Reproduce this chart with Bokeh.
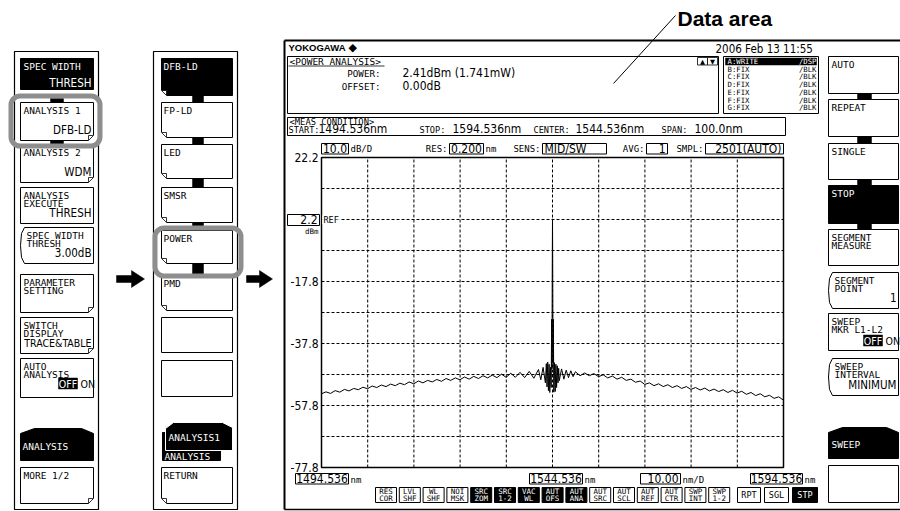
from bokeh.plotting import figure
from bokeh.models import Range1d, ColumnDataSource
from bokeh.core.properties import value
from bokeh.embed import file_html
from bokeh.resources import INLINE

# ============================ DATA ============================
START_NM = 1494.536
STOP_NM = 1594.536
CENTER_NM = 1544.536
NM_PER_DIV = 10.0
TOP_DBM = 22.2
BOTTOM_DBM = -77.8
DB_PER_DIV = 10.0
REF_DBM = 2.2
N_DIV = 10

Y_TICK_VALUES = [22.2, -17.8, -37.8, -57.8, -77.8]
Y_TICK_LABELS = ["22.2", "-17.8", "-37.8", "-57.8", "-77.8"]
REF_LABEL = "2.2"
X_BOX_LABELS = ["1494.536", "1544.536", "10.00", "1594.536"]
X_BOX_UNITS = ["nm", "nm", "nm/D", "nm"]

HEADER_NAMES = ["", "RES:", "SENS:", "AVG:", "SMPL:"]
HEADER_VALUES = ["10.0", "0.200", "MID/SW", "1", "2501(AUTO)"]
HEADER_UNITS = ["dB/D", "nm", "", "", ""]

MEAS_NAMES = ["START:", "STOP:", "CENTER:", "SPAN:"]
MEAS_VALUES = ["1494.536nm", "1594.536nm", "1544.536nm", "100.0nm"]

RESULT_NAMES = ["POWER:", "OFFSET:"]
RESULT_VALUES = ["2.41dBm (1.741mW)", "0.00dB"]

TRACE_NAMES = ["A:WRITE", "B:FIX", "C:FIX", "D:FIX", "E:FIX", "F:FIX", "G:FIX"]
TRACE_MODES = ["/DSP", "/BLK", "/BLK", "/BLK", "/BLK", "/BLK", "/BLK"]
DATE_TEXT = "2006 Feb 13 11:55"

MENU1_LABELS = [["SPEC WIDTH"], ["ANALYSIS 1"], ["ANALYSIS 2"], ["ANALYSIS", "EXECUTE"],
                ["SPEC WIDTH", "THRESH"], ["PARAMETER", "SETTING"], ["SWITCH", "DISPLAY"],
                ["AUTO", "ANALYSIS"], ["ANALYSIS"], ["MORE 1/2"]]
MENU1_VALUES = ["THRESH", "DFB-LD", "WDM", "THRESH", "3.00dB", "", "TRACE&TABLE", "OFF|ON", "", ""]

MENU2_LABELS = ["DFB-LD", "FP-LD", "LED", "SMSR", "POWER", "PMD", "", "", "ANALYSIS1", "RETURN"]
MENU2_PARENT = "ANALYSIS"

RIGHT_LABELS = [["AUTO"], ["REPEAT"], ["SINGLE"], ["STOP"], ["SEGMENT", "MEASURE"],
                ["SEGMENT", "POINT"], ["SWEEP", "MKR L1-L2"], ["SWEEP", "INTERVAL"], ["SWEEP"], []]
RIGHT_VALUES = ["", "", "", "", "", "1", "OFF|ON", "MINIMUM", "", ""]

STATUS_TOP = ["RES", "LVL", "WL", "NOI", "SRC", "SRC", "VAC", "AUT", "AUT", "AUT", "AUT", "AUT", "AUT", "SWP", "SWP"]
STATUS_BOTTOM = ["COR", "SHF", "SHF", "MSK", "ZOM", "1-2", "WL", "OFS", "ANA", "SRC", "SCL", "REF", "CTR", "INT", "1-2"]
STATUS_ON = [0, 0, 0, 0, 1, 1, 1, 1, 1, 0, 0, 0, 0, 0, 0]
SWEEP_KEYS = ["RPT", "SGL", "STP"]
SWEEP_ON = [0, 0, 1]

trace_wl = [
    1494.536, 1495.5, 1496.5, 1497.5, 1498.5, 1499.5, 1500.5, 1501.5, 1502.5, 1503.5,
    1504.5, 1505.5, 1506.5, 1507.5, 1508.5, 1509.5, 1510.5, 1511.5, 1512.5, 1513.5,
    1514.5, 1515.5, 1516.5, 1517.5, 1518.5, 1519.5, 1520.5, 1521.5, 1522.5, 1523.5,
    1524.5, 1525.5, 1526.5, 1527.5, 1528.5, 1529.5, 1530.5, 1531.5, 1532.5, 1533.5,
    1534.5, 1535.5, 1536.5, 1537.5, 1538.5, 1539.5, 1540.5, 1541.5, 1542.0, 1542.5,
    1543.0,
    1543.2, 1543.35, 1543.5, 1543.65, 1543.8, 1543.95, 1544.1, 1544.25, 1544.35, 1544.42,
    1544.48, 1544.536, 1544.59, 1544.65, 1544.72, 1544.82, 1544.97, 1545.12, 1545.27, 1545.42,
    1545.57, 1545.72, 1545.87, 1546.0,
    1546.5, 1547.0, 1547.5, 1548.0, 1548.5, 1549.0, 1549.5,
    1550.5, 1551.5, 1552.5, 1553.5, 1554.5, 1555.5, 1556.5, 1557.5, 1558.5, 1559.5,
    1560.5, 1561.5, 1562.5, 1563.5, 1564.5, 1565.5, 1566.5, 1567.5, 1568.5, 1569.5,
    1570.5, 1571.5, 1572.5, 1573.5, 1574.5, 1575.5, 1576.5, 1577.5, 1578.5, 1579.5,
    1580.5, 1581.5, 1582.5, 1583.5, 1584.5, 1585.5, 1586.5, 1587.5, 1588.5, 1589.5,
    1590.5, 1591.5, 1592.5, 1593.5, 1594.536,
]
trace_db = [
    -54.0, -53.4, -53.9, -53.0, -53.5, -52.6, -53.1, -52.3, -52.7, -51.9,
    -52.4, -51.5, -52.0, -51.2, -51.7, -50.9, -51.4, -50.6, -51.1, -50.2,
    -50.8, -49.9, -50.5, -49.7, -50.2, -49.4, -50.0, -49.1, -49.7, -48.9,
    -49.5, -48.6, -49.3, -48.4, -49.1, -48.2, -48.9, -48.0, -48.8, -47.7,
    -48.7, -47.4, -48.7, -47.1, -48.8, -46.8, -49.0, -46.2, -49.5, -45.5,
    -50.5,
    -44.3, -51.8, -43.8, -53.0, -44.5, -53.6, -45.5, -52.0, -30.0, -46.0,
    -14.5, 2.41, -14.5, -44.0, -30.0, -53.5, -44.0, -53.3, -44.5, -52.0,
    -45.0, -50.5, -45.8, -49.8,
    -46.0, -49.3, -46.4, -48.8, -46.6, -48.5, -46.9,
    -48.2, -47.3, -48.2, -47.5, -48.5, -47.9, -48.9, -48.3, -49.3, -48.7,
    -49.7, -49.3, -50.3, -49.9, -51.0, -50.5, -51.4, -50.8, -51.7, -51.1,
    -52.0, -51.4, -52.3, -51.7, -52.6, -52.0, -52.8, -52.2, -53.1, -52.5,
    -53.3, -52.7, -53.6, -52.9, -53.8, -53.2, -54.2, -53.6, -54.6, -54.0,
    -55.0, -54.5, -55.5, -55.0, -56.1,
]

# ============================ LAYOUT ============================
W, H = 900, 511
X0, X1 = 0, 900          # picture pixels covered by the figure
Y0, Y1 = 0, 511
PL, PR, PT, PB = 321, 783, 157, 467   # plot frame (picture pixels)

SMALL = "DejaVu Sans Mono"
VAL = "DejaVu Sans Condensed"

k_nm = (STOP_NM - START_NM) / (PR - PL)
k_db = (TOP_DBM - BOTTOM_DBM) / (PB - PT)

p = figure(width=W, height=H, x_range=Range1d(X0, X1), y_range=Range1d(Y1, Y0),
           x_axis_type=None, y_axis_type=None, output_backend="svg", toolbar_location=None,
           min_border=0, outline_line_color=None, background_fill_color="white",
           border_fill_color="white")
p.extra_x_ranges = {"nm": Range1d(START_NM - (PL - X0) * k_nm, STOP_NM + (X1 - PR) * k_nm)}
p.extra_y_ranges = {"db": Range1d(BOTTOM_DBM - (Y1 - PB) * k_db, TOP_DBM + (PT - Y0) * k_db)}


def layer():
    return {"q": {k: [] for k in ("left", "right", "top", "bottom", "fc", "fa", "lc", "la", "lw")},
            "p": {k: [] for k in ("xs", "ys", "fc", "fa", "lc", "la", "lw")},
            "s": {k: [] for k in ("x0", "y0", "x1", "y1", "lc", "lw")}}


def Qd(ly, l, r, t, b, fc="white", lc="black", lw=1.0, fa=1.0, la=1.0):
    d = ly["q"]
    for k, v in zip(("left", "right", "top", "bottom", "fc", "fa", "lc", "la", "lw"),
                    (l, r, t, b, fc, fa, lc, la, lw)):
        d[k].append(v)


def Pd(ly, xs, ys, fc="white", lc="black", lw=1.0, fa=1.0, la=1.0):
    d = ly["p"]
    for k, v in zip(("xs", "ys", "fc", "fa", "lc", "la", "lw"), (xs, ys, fc, fa, lc, la, lw)):
        d[k].append(v)


def Sd(ly, x0, y0, x1, y1, lc="black", lw=1.0):
    d = ly["s"]
    for k, v in zip(("x0", "y0", "x1", "y1", "lc", "lw"), (x0, y0, x1, y1, lc, lw)):
        d[k].append(v)


def draw_layer(ly):
    if ly["q"]["left"]:
        p.quad(left="left", right="right", top="top", bottom="bottom", fill_color="fc",
               fill_alpha="fa", line_color="lc", line_alpha="la", line_width="lw",
               source=ColumnDataSource(ly["q"]))
    if ly["p"]["xs"]:
        p.patches(xs="xs", ys="ys", fill_color="fc", fill_alpha="fa", line_color="lc",
                  line_alpha="la", line_width="lw", source=ColumnDataSource(ly["p"]))
    if ly["s"]["x0"]:
        p.segment(x0="x0", y0="y0", x1="x1", y1="y1", line_color="lc", line_width="lw",
                  source=ColumnDataSource(ly["s"]))


TXT = {}


def T(x, y, s, size=9.5, font=SMALL, color="black", align="left", style="normal"):
    key = (size, font, color, align, style)
    d = TXT.setdefault(key, {"x": [], "y": [], "text": []})
    d["x"].append(x)
    d["y"].append(y)
    d["text"].append(s)


def draw_text():
    for (size, font, color, align, style), d in TXT.items():
        p.text(x="x", y="y", text="text", source=ColumnDataSource(d), text_font=value(font),
               text_font_size=value(f"{size}px"), text_color=color, text_align=align,
               text_baseline="middle", text_font_style=style)


L1 = layer()
L2 = layer()


def button(ly, x0, x1, y0, y1, kind):
    f = 5
    if kind in ("plain", "foldR", "foldL"):
        Qd(ly, x0, x1, y0, y1, "white", "black", 1.0)
    elif kind in ("black", "blackFoldL"):
        Qd(ly, x0, x1, y0, y1, "black", "black", 1.0)
    elif kind == "bracket":
        ym = (y0 + y1) / 2
        Pd(ly, [x0 + 4, x1, x1, x0 + 4, x0 + 1, x0, x0 + 1],
           [y0, y0, y1, y1, y1 - 6, ym, y0 + 6], "white", "black", 1.0)
    elif kind == "tab":
        Pd(ly, [x0, x0, x0 + 14, x1 - 12, x1, x1], [y1, y0 + 5, y0, y0, y0 + 5, y1],
           "black", "black", 1.0)
    if kind == "foldR":
        Pd(ly, [x1 - f, x1 + 0.6, x1 + 0.6], [y1 + 0.6, y1 - f, y1 + 0.6], "white", "white", 1.2)
        Pd(ly, [x1 - f, x1, x1 - f], [y1, y1 - f, y1 - f], "white", "black", 0.8)
    if kind in ("foldL", "blackFoldL"):
        Pd(ly, [x0 - 0.6, x0 + f, x0 - 0.6], [y1 - f, y1 + 0.6, y1 + 0.6], "white", "white", 1.2)
        Pd(ly, [x0, x0 + f, x0 + f], [y1 - f, y1, y1 - f], "white", "black", 0.8)


def off_on(x1, yc):
    Qd(L2, x1 - 35, x1 - 16, yc - 5.5, yc + 5.5, "black", "black", 0.5)
    T(x1 - 25.5, yc, "OFF", 10.5, VAL, "white", "center")
    T(x1 - 13, yc, "ON", 10.5, VAL, "black", "left")


# ---- "Data area" callout ----
T(677, 18, "Data area", 21, "Liberation Sans", "black", "left", "bold")
Sd(L1, 675, 15, 613, 83, "black", 1.0)

# ---- left menu 1 ----
Qd(L1, 14, 98, 51, 509, "white", "black", 1.2)
MENU1_Y = [(58, 89), (102, 140), (144, 182), (187, 223), (227, 263), (274, 312),
           (317, 353), (358, 397), (428, 460), (467, 503)]
MENU1_KIND = ["black", "foldR", "foldR", "plain", "bracket", "foldR", "foldR", "plain", "tab", "foldR"]
for lines, val, kind, (y0, y1) in zip(MENU1_LABELS, MENU1_VALUES, MENU1_KIND, MENU1_Y):
    x0, x1 = 20, 93
    button(L1, x0, x1, y0, y1, kind)
    col = "white" if kind in ("black", "tab") else "black"
    dx = 6 if kind == "bracket" else 3
    if kind == "tab":
        T(x0 + 2, (y0 + y1) / 2 + 2, lines[0], 9.5, SMALL, "white")
    else:
        for i, s in enumerate(lines):
            T(x0 + dx, y0 + 8 + 8 * i, s, 9.5, SMALL, col)
    if val == "OFF|ON":
        off_on(x1, y0 + 25)
    elif val:
        vy = y1 - 7 if kind == "black" else y1 - 11
        T(x1 - 2, vy, val, 10.5 if len(val) > 8 else 11.5, VAL, col, "right")
Qd(L1, 50, 63, 98, 102, "black", "black", 0.5)
Qd(L1, 50, 63, 140, 144, "black", "black", 0.5)

# ---- arrows ----
Pd(L1, [116, 131, 131, 144, 131, 131, 116], [275, 275, 270, 278.5, 287, 282, 282], "black", "black", 0.5)
Pd(L1, [246, 259, 259, 272, 259, 259, 246], [275, 275, 270, 278.5, 287, 282, 282], "black", "black", 0.5)

# ---- left menu 2 ----
Qd(L1, 153, 237, 51, 509, "white", "black", 1.2)
MENU2_Y = [(58, 95), (102, 137), (144, 178), (187, 222), (230, 263), (275, 310),
           (317, 352), (360, 396), (422, 460), (467, 503)]
MENU2_KIND = ["blackFoldL", "foldL", "foldL", "foldL", "foldL", "foldL", "plain", "plain", "tab2", "foldL"]
for lab, kind, (y0, y1) in zip(MENU2_LABELS, MENU2_KIND, MENU2_Y):
    x0, x1 = 161, 232
    if kind == "tab2":
        Pd(L1, [162, 165, 165, 220, 220, 162], [432, 432, 450, 450, 460, 460], "black", "black", 1.0)
        Pd(L1, [165, 165, 173, 222, 232, 232], [450, 428, 422, 422, 427, 450], "black", "white", 1.0)
        T(168, 437, lab, 9.5, SMALL, "white")
        T(164, 455.5, MENU2_PARENT, 9.5, SMALL, "white")
        continue
    button(L1, x0, x1, y0, y1, kind)
    col = "white" if kind == "blackFoldL" else "black"
    if lab:
        T(x0 + 2, y0 + 8, lab, 9.5, SMALL, col)
for (ya, yb) in [(95, 102), (137, 144), (178, 187), (222, 230), (263, 275)]:
    Qd(L1, 192, 203, ya, yb, "black", "black", 0.5)

# ---- screen frame ----
Sd(L1, 284, 40, 900, 40, "black", 2.0)
Sd(L1, 284, 40, 284, 509, "black", 2.0)
Sd(L1, 284, 509, 900, 509, "black", 1.5)
T(288, 46.5, "YOKOGAWA", 9.5, "Liberation Sans", "black", "left", "bold")
T(348, 46.5, "\u25c6", 11, "DejaVu Sans", "black", "left")
T(715, 48.5, DATE_TEXT, 11.5, VAL, "black", "left")

# data area box
Qd(L1, 287, 718, 56, 113, "white", "black", 1.0)
T(289, 61, "<POWER ANALYSIS>", 9.5, SMALL)
Sd(L1, 288, 65.5, 384, 65.5, "black", 0.8)
for i, (nm_, vl) in enumerate(zip(RESULT_NAMES, RESULT_VALUES)):
    T(380, 72.5 + 13 * i, nm_, 9.2, SMALL, "black", "right")
    T(402, 72 + 13 * i, vl, 12, VAL, "black", "left")
Qd(L1, 697, 707, 57, 64.5, "white", "black", 0.8)
Qd(L1, 707, 717, 57, 64.5, "white", "black", 0.8)
T(702, 61, "\u25b2", 6.5, "DejaVu Sans", "black", "center")
T(712, 61, "\u25bc", 6.5, "DejaVu Sans", "black", "center")

# trace table
Qd(L1, 723, 818, 56, 113, "white", "black", 1.0)
Qd(L1, 725, 816, 57.5, 64.5, "black", "black", 0.5)
for i, (nm_, md) in enumerate(zip(TRACE_NAMES, TRACE_MODES)):
    col = "white" if i == 0 else "black"
    T(727, 61 + 7.7 * i, nm_, 7.3, SMALL, col, "left")
    T(816, 61 + 7.7 * i, md, 7.3, SMALL, col, "right")

# measurement condition box
Qd(L1, 287, 785, 117, 135, "white", "black", 1.0)
T(289, 121.5, "<MEAS CONDITION>", 8.8, SMALL)
MEAS_X = [(287, 318), (418, 452), (532, 575), (660, 694)]
for (xa, xb), nm_, vl in zip(MEAS_X, MEAS_NAMES, MEAS_VALUES):
    T(xa + 1, 129.5, nm_, 8.6, SMALL)
    T(xb, 128.5, vl, 12, VAL)

# header row above plot
HDR_BOX = [(321, 348), (449, 483), (542, 606), (646, 667), (705, 783)]
HDR_ALIGN = ["center", "center", "left", "right", "right"]
for (xa, xb), nm_, vl, un, al in zip(HDR_BOX, HEADER_NAMES, HEADER_VALUES, HEADER_UNITS, HDR_ALIGN):
    Qd(L1, xa, xb, 143, 153.5, "white", "black", 1.0)
    if nm_:
        T(xa - 2, 148.5, nm_, 9, SMALL, "black", "right")
    tx = {"center": (xa + xb) / 2, "left": xa + 2, "right": xb - 2}[al]
    T(tx, 148, vl, 12, VAL, "black", al)
    if un:
        T(xb + 2, 148.5, un, 9, SMALL)

# plot frame
Qd(L1, PL, PR, PT, PB, "white", "black", 1.5)

draw_layer(L1)

# grid (data coordinates)
gx = [START_NM + i * NM_PER_DIV for i in range(1, N_DIV)]
gy = [BOTTOM_DBM + j * DB_PER_DIV for j in range(1, N_DIV)]
p.segment(x0=gx, x1=gx, y0=[BOTTOM_DBM] * len(gx), y1=[TOP_DBM] * len(gx),
          x_range_name="nm", y_range_name="db", line_color="black", line_width=1,
          line_dash="3 2")
p.segment(x0=[START_NM] * len(gy), x1=[STOP_NM] * len(gy), y0=gy, y1=gy,
          x_range_name="nm", y_range_name="db", line_color="black", line_width=1,
          line_dash="3 2")

# trace
p.line(trace_wl, trace_db, x_range_name="nm", y_range_name="db", line_color="black",
       line_width=1)

# REF box
Qd(L2, 287, 319, 214, 225, "white", "black", 1.0)
Qd(L2, 322, 339, 215, 223.5, "white", "white", 0.5)
T(323, 219.5, "REF", 8.5, SMALL)
T(318, 230.5, "dBm", 7.5, SMALL, "black", "right")

# x labels row
XB = [(295, 348, "center"), (529, 582, "center"), (640, 680, "right"), (750, 802, "center")]
for (xa, xb, al), lab, un in zip(XB, X_BOX_LABELS, X_BOX_UNITS):
    Qd(L2, xa, xb, 473, 483.5, "white", "black", 1.0)
    tx = (xa + xb) / 2 if al == "center" else xb - 2
    T(tx, 478, lab, 12, VAL, "black", al)
    T(xb + 2, 479, un, 9, SMALL)

# status key row
for i, (a, b, on) in enumerate(zip(STATUS_TOP, STATUS_BOTTOM, STATUS_ON)):
    xa = 375 + 23.8 * i
    xb = xa + 21
    Qd(L2, xa, xb, 487, 502, "black" if on else "white", "black", 1.0)
    col = "white" if on else "black"
    T((xa + xb) / 2, 491, a, 7.5, SMALL, col, "center")
    T((xa + xb) / 2, 497.5, b, 7.5, SMALL, col, "center")
SWX = [(737, 760), (764, 788), (792, 817)]
for (xa, xb), lab, on in zip(SWX, SWEEP_KEYS, SWEEP_ON):
    Qd(L2, xa, xb, 487, 502, "black" if on else "white", "black", 1.0)
    T((xa + xb) / 2, 494.5, lab, 8.5, SMALL, "white" if on else "black", "center")

# ---- right soft-key menu ----
RIGHT_Y = [(56, 93), (99, 136), (143, 179), (185, 223), (229, 265), (272, 308),
           (313, 350), (358, 395), (427, 458), (465, 502)]
RIGHT_KIND = ["plain", "plain", "plain", "black", "plain", "bracket", "plain", "bracket", "tab", "plain"]
for lines, val, kind, (y0, y1) in zip(RIGHT_LABELS, RIGHT_VALUES, RIGHT_KIND, RIGHT_Y):
    x0, x1 = 828, 898
    button(L2, x0, x1, y0, y1, kind)
    col = "white" if kind in ("black", "tab") else "black"
    dx = 6 if kind == "bracket" else 3
    if kind == "tab":
        T(x0 + 3, (y0 + y1) / 2 + 1, lines[0], 9.5, SMALL, "white")
    else:
        for i, s in enumerate(lines):
            T(x0 + dx, y0 + 8 + 8 * i, s, 9.5, SMALL, col)
    if val == "OFF|ON":
        off_on(x1, y0 + 27)
    elif val:
        T(x1 - 2, y1 - 11, val, 11.5, VAL, col, "right")
for (ya, yb) in [(93, 99), (136, 143), (179, 185), (223, 229)]:
    Qd(L2, 857, 871, ya, yb, "black", "black", 0.5)

draw_layer(L2)
draw_text()

# y tick labels and reference level (data coordinates)
p.text(x=[318] * len(Y_TICK_VALUES), y=Y_TICK_VALUES, text=Y_TICK_LABELS, y_range_name="db",
       text_font=value(VAL), text_font_size=value("12px"), text_align="right",
       text_baseline="middle", text_color="black")
p.text(x=[317], y=[REF_DBM], text=[REF_LABEL], y_range_name="db", text_font=value(VAL),
       text_font_size=value("12px"), text_align="right", text_baseline="middle",
       text_color="black")

# grey selection highlights
p.quad(left=[10.5, 154.5], right=[99.5, 240.5], top=[95.5, 227.5], bottom=[145.5, 275.5],
       fill_alpha=0, line_color="#8e8e8e", line_width=5, border_radius=9)

open("out.html", "w").write(file_html(p, INLINE))
